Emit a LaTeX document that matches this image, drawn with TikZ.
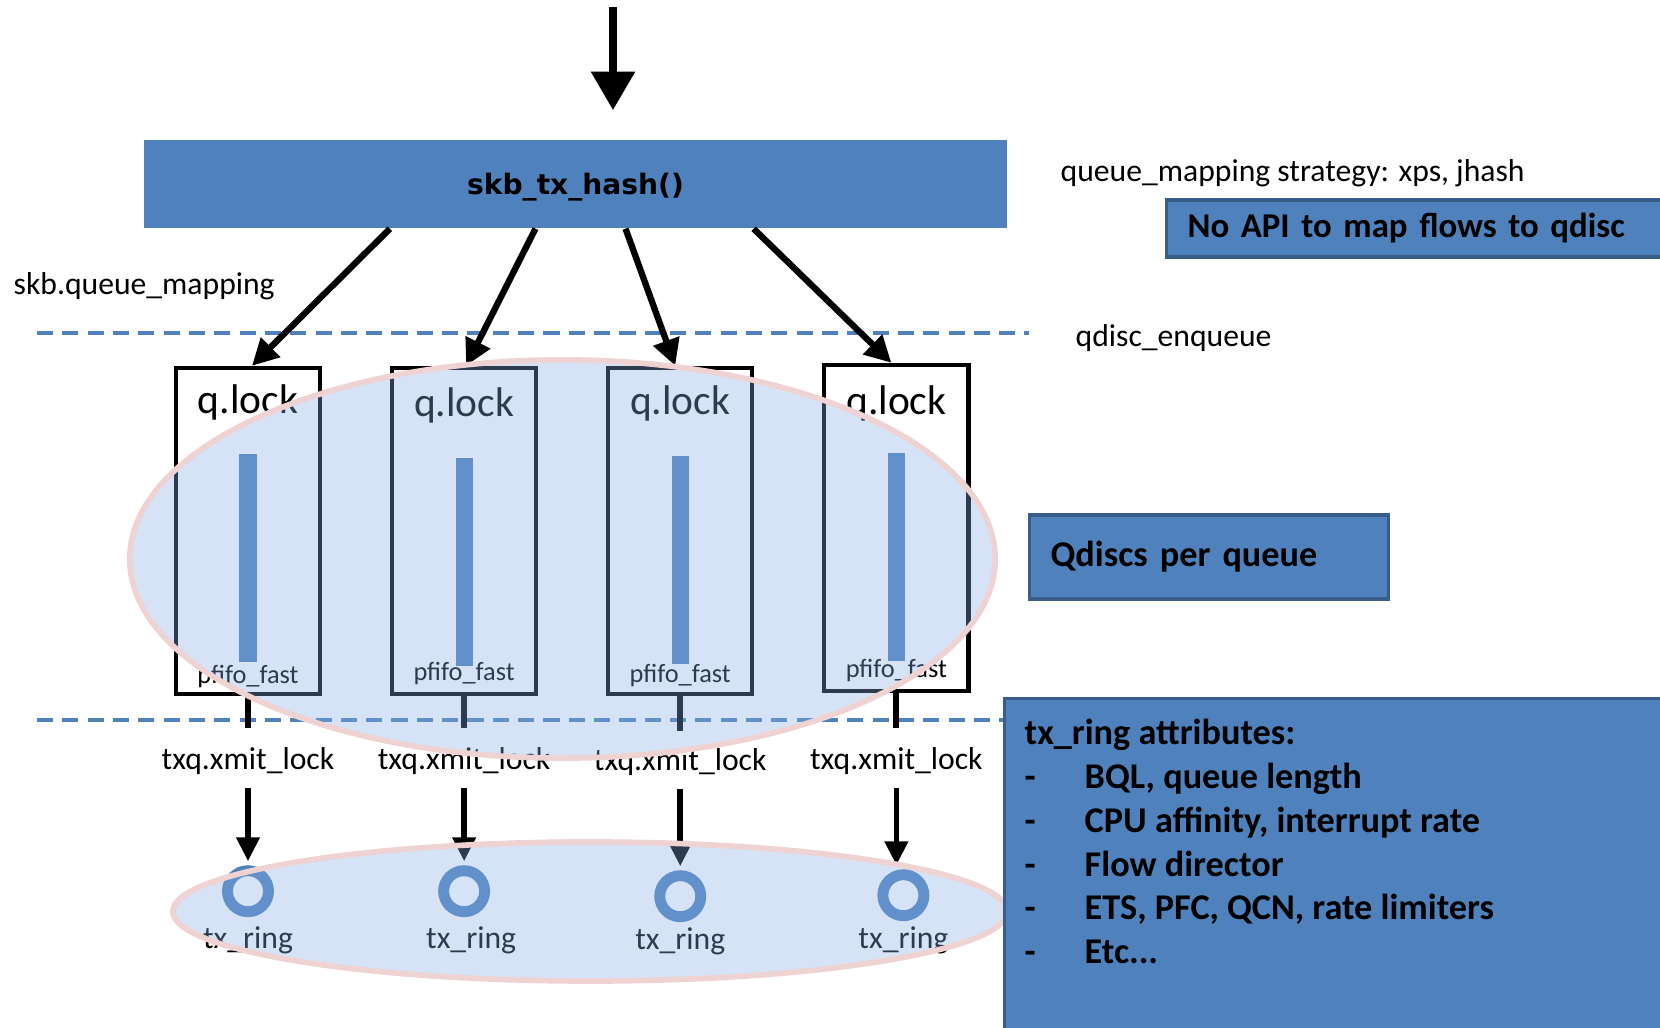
\documentclass[tikz,border=0pt]{standalone}
\usepackage{fontspec}
\setmainfont{Carlito}
\newfontfamily\vfont{DejaVu Sans}
\usetikzlibrary{positioning,arrows.meta,shapes.geometric}
\definecolor{hashblue}{HTML}{4F81BD}
\definecolor{edgeblue}{HTML}{385D8A}
\definecolor{pinkline}{HTML}{EED3D2}
\definecolor{veilblue}{RGB}{135,174,229}

\begin{document}
\begin{tikzpicture}[x=0.01cm, y=-0.01cm, node distance=2.16cm]
    \tikzstyle{hash} = [rectangle, fill=hashblue, minimum width=8.63cm, minimum height=0.88cm, font=\vfont\bfseries\fontsize{8}{10}\selectfont]
    \tikzstyle{note} = [rectangle, draw=edgeblue, line width=0.9pt, fill=hashblue, inner xsep=0.21cm, align=left, font=\bfseries\fontsize{10.3}{12.5}\selectfont]
    \tikzstyle{attr} = [inner sep=0pt, align=left, font=\bfseries\fontsize{10.3}{12.5}\selectfont]
    \tikzstyle{lockbox} = [rectangle, draw, line width=1.2pt, minimum width=1.44cm, minimum height=3.26cm]
    \tikzstyle{locktext} = [inner sep=0pt, font=\fontsize{11.8}{14}\selectfont]
    \tikzstyle{fifo} = [rectangle, fill=hashblue, minimum width=0.17cm, minimum height=2.08cm, inner sep=0pt]
    \tikzstyle{fifotext} = [inner sep=0pt, font=\fontsize{7.5}{9}\selectfont]
    \tikzstyle{ring} = [circle, draw=hashblue, line width=3.1pt, minimum size=0.41cm, inner sep=0pt]
    \tikzstyle{veil} = [ellipse, draw=pinkline, line width=1.6pt, fill=veilblue, fill opacity=0.34, inner sep=0pt]
    \tikzstyle{lbl} = [inner sep=0pt, font=\fontsize{9}{11}\selectfont]
    \tikzstyle{cut} = [hashblue, line width=0.9pt, dash pattern=on 4.6pt off 2.6pt]
    \tikzstyle{bigarrow} = [line width=2.4pt, -{Triangle[length=11pt, width=12pt]}]
    \tikzstyle{arrow} = [line width=1.8pt, -{Triangle[length=7.5pt, width=7.5pt]}]
    \tikzstyle{smallarrow} = [line width=1.6pt, -{Triangle[length=6.8pt, width=6.4pt]}]
    \tikzstyle{stem} = [line width=1.7pt]

    \useasboundingbox (0,0) rectangle (1660,1028);
    \clip (0,0) rectangle (1660,1028);

    % separators
    \coordinate (cutA) at (37,333);
    \coordinate (cutB) at (37,720);
    \draw [cut] (cutA) -- ++(992,0);
    \draw [cut] (cutB) -- ++(975,0);

    % hash
    \node [hash] (hash) at (575.5,184) {\raisebox{-0.11cm}[0pt][0pt]{skb\_tx\_hash()}};
    \coordinate (entry) at (613,7);
    \draw [bigarrow, shorten >=0.29cm] (entry) -- (entry |- hash.north);

    \node [lbl, anchor=west] (strategy) at (1060,173) {queue\_mapping strategy: xps, jhash};
    \node [note, anchor=west, minimum height=0.57cm, text width=5.0cm, font=\bfseries\fontsize{9.9}{12}\selectfont] (noapi) at (1165,228.5) {No API to map flows to qdisc};
    \node [lbl, anchor=west] (mapping) at (13,286) {skb.queue\_mapping};
    \node [lbl, anchor=west] (enqueue) at (1075,338) {qdisc\_enqueue};

    % qdiscs
    \node [lockbox] (q1) at (248,531) {};
    \node [lockbox, right of=q1] (q2) {};
    \node [lockbox, right of=q2] (q3) {};
    \node [lockbox, right of=q3, yshift=0.03cm] (q4) {};

    \node [locktext] (l1) at ([yshift=-0.37cm]q1.north) {q.lock};
    \node [locktext] (l2) at ([yshift=-0.40cm]q2.north) {q.lock};
    \node [locktext] (l3) at ([yshift=-0.38cm]q3.north) {q.lock};
    \node [locktext] (l4) at ([yshift=-0.41cm]q4.north) {q.lock};

    \node [fifo] (f1) at ([yshift=-1.92cm]q1.north) {};
    \node [fifo] (f2) at ([yshift=-1.96cm]q2.north) {};
    \node [fifo] (f3) at ([yshift=-1.94cm]q3.north) {};
    \node [fifo] (f4) at ([yshift=-1.94cm]q4.north) {};

    \node [fifotext] (p1) at ([yshift=0.20cm]q1.south) {pfifo\_fast};
    \node [fifotext] (p2) at ([yshift=0.23cm]q2.south) {pfifo\_fast};
    \node [fifotext] (p3) at ([yshift=0.21cm]q3.south) {pfifo\_fast};
    \node [fifotext] (p4) at ([yshift=0.23cm]q4.south) {pfifo\_fast};

    \draw [arrow] ([xshift=-1.855cm]hash.south) -- ([xshift=0.04cm]q1.north);
    \draw [arrow] ([xshift=-0.40cm]hash.south) -- ([xshift=0.02cm]q2.north);
    \draw [arrow] ([xshift=0.50cm]hash.south) -- ([xshift=-0.05cm]q3.north);
    \draw [arrow] ([xshift=1.78cm]hash.south) -- ([xshift=-0.05cm]q4.north);

    % tx rings
    \node [lbl, below of=q1, node distance=2.30cm] (t1) {txq.xmit\_lock};
    \node [lbl, below of=q2, node distance=2.30cm] (t2) {txq.xmit\_lock};
    \node [lbl, below of=q3, node distance=2.31cm] (t3) {txq.xmit\_lock};
    \node [lbl, below of=q4, node distance=2.33cm] (t4) {txq.xmit\_lock};

    \draw [stem] (q1.south) -- ++(0,32);
    \draw [stem] (q2.south) -- ++(0,32);
    \draw [stem] (q3.south) -- ++(0,35);
    \draw [stem] (q4.south) -- ++(0,35);

    \node [ring, below of=t1, node distance=1.30cm] (r1) {};
    \node [ring, below of=t2, node distance=1.30cm] (r2) {};
    \node [ring, below of=t3, node distance=1.34cm] (r3) {};
    \node [ring, below of=t4, node distance=1.34cm, xshift=0.07cm] (r4) {};

    \draw [smallarrow, shorten >=0.04cm] ([yshift=-0.27cm]t1.center) -- (t1 |- r1.north);
    \draw [smallarrow, shorten >=0.04cm] ([yshift=-0.27cm]t2.center) -- (t2 |- r2.north);
    \draw [smallarrow, shorten >=0.04cm] ([yshift=-0.27cm]t3.center) -- (t3 |- r3.north);
    \draw [smallarrow, shorten >=0.04cm] ([yshift=-0.27cm]t4.center) -- (t4 |- r4.north);

    \node [lbl, below of=r1, node distance=0.49cm] (x1) {tx\_ring};
    \node [lbl, below of=r2, node distance=0.49cm, xshift=0.07cm] (x2) {tx\_ring};
    \node [lbl, below of=r3, node distance=0.45cm] (x3) {tx\_ring};
    \node [lbl, below of=r4, node distance=0.45cm] (x4) {tx\_ring};

    % groups
    \node [veil, minimum width=8.65cm, minimum height=3.98cm] (qdiscs) at (562.5,559) {};
    \node [veil, minimum width=8.34cm, minimum height=1.39cm] (rings) at (590,911.5) {};

    % notes
    \node [note, anchor=west, minimum height=0.84cm, text width=3.17cm] (perqueue) at (1028,557) {Qdiscs per queue};
    \node [note, anchor=north west, minimum width=6.9cm, minimum height=3.6cm] (attrbox) at (1003,697) {};
    \node [attr, anchor=north west] (attrs) at ([xshift=0.21cm, yshift=-0.21cm]attrbox.north west) {tx\_ring attributes:\\
        \makebox[0.6cm][l]{-}BQL, queue length\\
        \makebox[0.6cm][l]{-}CPU affinity, interrupt rate\\
        \makebox[0.6cm][l]{-}Flow director\\
        \makebox[0.6cm][l]{-}ETS, PFC, QCN, rate limiters\\
        \makebox[0.6cm][l]{-}Etc...};
\end{tikzpicture}
\end{document}
